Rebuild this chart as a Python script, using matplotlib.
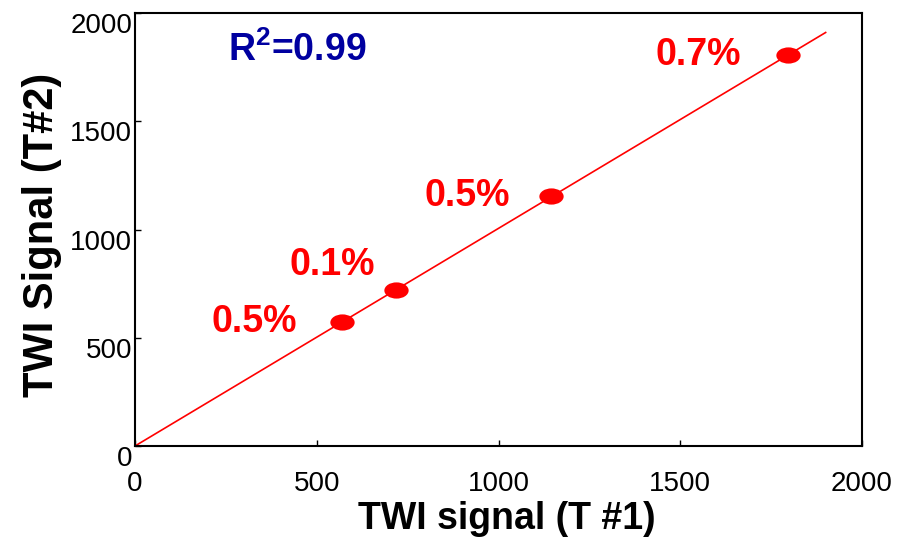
import matplotlib
matplotlib.use("Agg")
import matplotlib.pyplot as plt
from matplotlib.path import Path
from matplotlib.markers import MarkerStyle

# ---- data ----
x_vals = [569, 718, 1144, 1796]
y_vals = [574, 722, 1157, 1806]
pct_labels = ["0.5%", "0.1%", "0.5%", "0.7%"]
fit_x = [0, 1900]
fit_y = [0, 1910]
r2_text = r"$\mathbf{R^{2}}$=0.99"
x_ticks = [0, 500, 1000, 1500, 2000]
y_ticks = [0, 500, 1000, 1500, 2000]

# label offsets (pixels) relative to each point, right-aligned text
label_offsets = [(-45, 0), (-21, 25), (-41, 0), (-47, 0)]

plt.rcParams['font.family'] = ['Liberation Sans', 'DejaVu Sans']
plt.rcParams['mathtext.fontset'] = 'custom'
plt.rcParams['mathtext.rm'] = 'Liberation Sans'
plt.rcParams['mathtext.bf'] = 'Liberation Sans:bold'

fig = plt.figure(figsize=(9.22, 5.46), dpi=100)
ax = fig.add_axes([135/922, 1-446/546, (862-135)/922, (446-13)/546])

ax.plot(fit_x, fit_y, color='#ff0000', lw=1.2, zorder=2)

circ = Path.unit_circle()
ell = Path(circ.vertices * [1.5, 1.0], circ.codes)
ax.plot(x_vals, y_vals, linestyle='none', marker=MarkerStyle(ell),
        markersize=17.5, color='#ff0000', markeredgewidth=0, zorder=3)

for xv, yv, lab, (dx, dy) in zip(x_vals, y_vals, pct_labels, label_offsets):
    ax.annotate(lab, (xv, yv), xytext=(dx, dy), textcoords='offset pixels',
                ha='right', va='center', color='#ff0000', fontsize=27,
                fontweight='bold')

ax.annotate(r2_text, xy=(0, 1), xycoords='axes fraction', xytext=(162, -37),
            textcoords='offset pixels', ha='center', va='center',
            color='#0000a0', fontsize=27, fontweight='bold')

ax.set_xlim(0, 2000)
ax.set_ylim(0, 2000)
ax.set_xticks(x_ticks)
ax.set_yticks(y_ticks)
ax.set_xticklabels([str(t) for t in x_ticks])
ax.set_yticklabels([str(t) for t in y_ticks], va='top')
ax.tick_params(axis='both', direction='in', length=4, width=1, labelsize=20)
ax.tick_params(axis='x', pad=18)
ax.tick_params(axis='y', pad=2)

for s in ax.spines.values():
    s.set_linewidth(1.5)
    s.set_color('black')

ax.set_xlabel("TWI signal (T #1)", fontsize=27, fontweight='bold')
ax.set_ylabel("TWI Signal (T#2)", fontsize=30, fontweight='bold')
ax.xaxis.set_label_coords((507-135)/727, (446-519)/433)
ax.yaxis.set_label_coords((42-135)/727, (446-235)/433)
ax.xaxis.label.set_va('center')
ax.yaxis.label.set_va('center')

fig.savefig("out.png", dpi=100)
